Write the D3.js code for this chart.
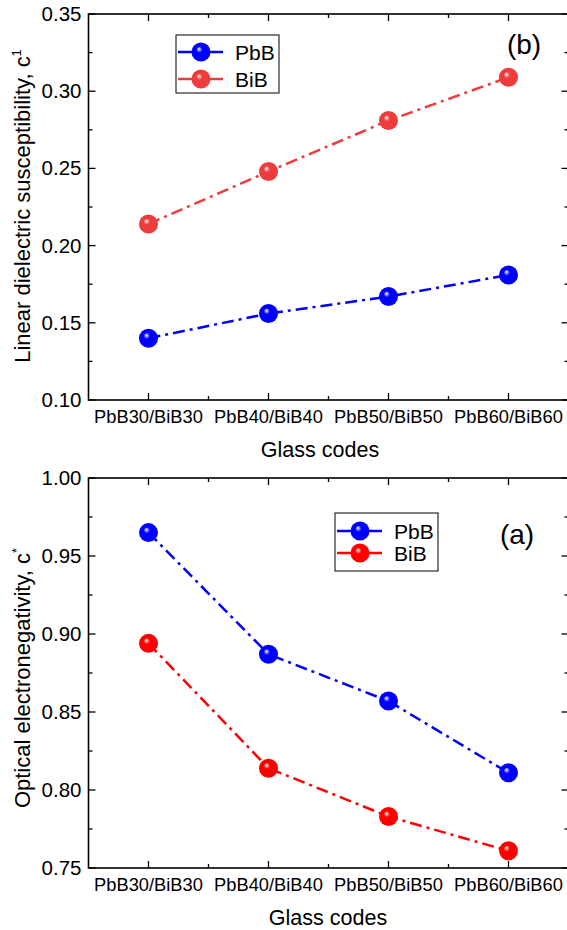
<!DOCTYPE html>
<html>
<head>
<meta charset="utf-8">
<script src="https://cdnjs.cloudflare.com/ajax/libs/d3/7.8.5/d3.min.js"></script>
<style>
  body { margin: 0; background: #fff; }
  text { font-family: Arial, "Liberation Sans", sans-serif; fill: #000; }
</style>
</head>
<body>
<div id="chart"></div>
<script>
var svgWidth = 567;
var svgHeight = 930;

// data
var glassCodes = ["PbB30/BiB30", "PbB40/BiB40", "PbB50/BiB50", "PbB60/BiB60"];
var susceptPbB = [0.140, 0.156, 0.167, 0.181];
var susceptBiB = [0.214, 0.248, 0.281, 0.309];
var electroPbB = [0.965, 0.887, 0.857, 0.811];
var electroBiB = [0.894, 0.814, 0.783, 0.761];
var susceptTicks = [0.10, 0.15, 0.20, 0.25, 0.30, 0.35];
var electroTicks = [0.75, 0.80, 0.85, 0.90, 0.95, 1.00];

var svg = d3.select("#chart")
  .append("svg")
  .attr("width", svgWidth)
  .attr("height", svgHeight);

var defs = svg.append("defs");
function ballGradient(id, color) {
  var g = defs.append("radialGradient")
    .attr("id", id)
    .attr("cx", "0.5").attr("cy", "0.5").attr("r", "0.55")
    .attr("fx", "0.38").attr("fy", "0.33");
  g.append("stop").attr("offset", "0%").attr("stop-color", "#ffffff");
  g.append("stop").attr("offset", "30%").attr("stop-color", color);
  g.append("stop").attr("offset", "100%").attr("stop-color", color);
}
ballGradient("ballBlue", "#0000ff");
ballGradient("ballRedLight", "#ee3b3b");
ballGradient("ballRed", "#ff0000");

var left = 88.5, right = 568.5;

function drawPanel(opts) {
  var x = d3.scaleLinear().domain([-0.5, 3.5]).range([left, right]);
  var y = d3.scaleLinear().domain(opts.yDomain).range([opts.bottom, opts.top]);
  var g = svg.append("g");

  // frame
  g.append("rect")
    .attr("x", left).attr("y", opts.top)
    .attr("width", right - left).attr("height", opts.bottom - opts.top)
    .attr("fill", "none").attr("stroke", "#000").attr("stroke-width", 1.6);

  // y ticks (inward), both sides
  var minorY = d3.range(opts.yDomain[0] + 0.025, opts.yDomain[1], 0.05);
  opts.yTicks.forEach(function(t) {
    g.append("line").attr("x1", left).attr("x2", left + 7)
      .attr("y1", y(t)).attr("y2", y(t)).attr("stroke", "#000").attr("stroke-width", 1.3);
    g.append("line").attr("x1", right).attr("x2", right - 7)
      .attr("y1", y(t)).attr("y2", y(t)).attr("stroke", "#000").attr("stroke-width", 1.3);
    g.append("text").attr("x", left - 7).attr("y", y(t) + 7)
      .attr("text-anchor", "end").attr("font-size", 20.5)
      .text(t.toFixed(2));
  });
  minorY.forEach(function(t) {
    g.append("line").attr("x1", left).attr("x2", left + 4)
      .attr("y1", y(t)).attr("y2", y(t)).attr("stroke", "#000").attr("stroke-width", 1.3);
    g.append("line").attr("x1", right).attr("x2", right - 4)
      .attr("y1", y(t)).attr("y2", y(t)).attr("stroke", "#000").attr("stroke-width", 1.3);
  });

  // x ticks (inward), top and bottom
  glassCodes.forEach(function(c, i) {
    [[opts.bottom, -7], [opts.top, 7]].forEach(function(p) {
      g.append("line").attr("x1", x(i)).attr("x2", x(i))
        .attr("y1", p[0]).attr("y2", p[0] + p[1]).attr("stroke", "#000").attr("stroke-width", 1.3);
    });
    g.append("text").attr("x", x(i)).attr("y", opts.bottom + 23)
      .attr("text-anchor", "middle").attr("font-size", 18.3)
      .text(c);
  });
  [0.5, 1.5, 2.5].forEach(function(v) {
    [[opts.bottom, -4], [opts.top, 4]].forEach(function(p) {
      g.append("line").attr("x1", x(v)).attr("x2", x(v))
        .attr("y1", p[0]).attr("y2", p[0] + p[1]).attr("stroke", "#000").attr("stroke-width", 1.3);
    });
  });

  // axis titles
  g.append("text").attr("x", opts.xTitleX).attr("y", opts.bottom + 57)
    .attr("text-anchor", "middle").attr("font-size", 21.5)
    .text("Glass codes");
  var yt = g.append("text")
    .attr("transform", "translate(30," + opts.yTitleMid + ") rotate(-90)")
    .attr("text-anchor", "middle").attr("font-size", 22);
  yt.append("tspan").text(opts.yTitle);
  yt.append("tspan").attr("dy", -9).attr("font-size", 13).text(opts.yTitleSup);

  // series
  var line = d3.line().x(function(d, i) { return x(i); }).y(function(d) { return y(d); });
  opts.series.forEach(function(s) {
    g.append("path").datum(s.values)
      .attr("d", line).attr("fill", "none")
      .attr("stroke", s.color).attr("stroke-width", 2.5)
      .attr("stroke-dasharray", "12,5,3,5");
    g.selectAll(null).data(s.values).enter().append("circle")
      .attr("cx", function(d, i) { return x(i); })
      .attr("cy", function(d) { return y(d); })
      .attr("r", 9.5)
      .attr("fill", "url(#" + s.ball + ")");
  });

  // legend
  var lg = opts.legend;
  g.append("rect").attr("x", lg.x).attr("y", lg.y)
    .attr("width", 103).attr("height", 58)
    .attr("fill", "#fff").attr("stroke", "#000").attr("stroke-width", 1);
  opts.series.forEach(function(s, i) {
    var ly = lg.y + lg.rows[i];
    g.append("line").attr("x1", lg.x + 2).attr("x2", lg.x + 47)
      .attr("y1", ly).attr("y2", ly).attr("stroke", s.color).attr("stroke-width", 2.5);
    g.append("circle").attr("cx", lg.x + 25).attr("cy", ly).attr("r", 9.5)
      .attr("fill", "url(#" + s.ball + ")");
    g.append("text").attr("x", lg.x + 59).attr("y", ly + 7.5)
      .attr("font-size", 21).text(s.name);
  });

  g.append("text").attr("x", opts.label.x).attr("y", opts.label.y)
    .attr("text-anchor", "middle").attr("font-size", 28)
    .text(opts.label.text);
}

drawPanel({
  top: 14, bottom: 400,
  yDomain: [0.10, 0.35], yTicks: susceptTicks,
  yTitle: "Linear dielectric susceptibility, c", yTitleSup: "1",
  yTitleMid: 206, xTitleX: 320,
  series: [
    { name: "PbB", values: susceptPbB, color: "#0000ff", ball: "ballBlue" },
    { name: "BiB", values: susceptBiB, color: "#ee3b3b", ball: "ballRedLight" }
  ],
  legend: { x: 176, y: 35, rows: [17, 44] },
  label: { x: 524, y: 54, text: "(b)" }
});

drawPanel({
  top: 478, bottom: 868,
  yDomain: [0.75, 1.00], yTicks: electroTicks,
  yTitle: "Optical electronegativity, c", yTitleSup: "*",
  yTitleMid: 678, xTitleX: 328,
  series: [
    { name: "PbB", values: electroPbB, color: "#0000ff", ball: "ballBlue" },
    { name: "BiB", values: electroBiB, color: "#ff0000", ball: "ballRed" }
  ],
  legend: { x: 335, y: 513, rows: [18, 40] },
  label: { x: 517, y: 544, text: "(a)" }
});
</script>
</body>
</html>
